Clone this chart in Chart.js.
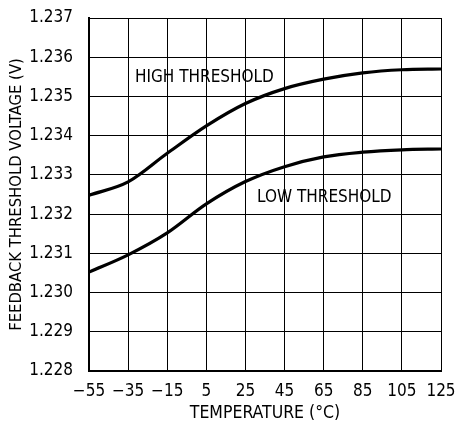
<!DOCTYPE html>
<html>
<head>
<meta charset="utf-8">
<script src="https://cdn.jsdelivr.net/npm/chart.js@4.4.1/dist/chart.umd.min.js"></script>
<style>
    html, body { margin: 0; padding: 0; background: #fff; }
    #wrap { width: 455px; height: 424px; }
</style>
</head>
<body>
<div id="wrap"><canvas id="myChart"></canvas></div>
<script>
/* ===============================
   DATA
=============================== */
const temps = [-55, -35, -15, 5, 25, 45, 65, 85, 105, 125];
const highThreshold = [1.23248, 1.23282, 1.23355, 1.23425, 1.23482, 1.2352, 1.23544, 1.2356, 1.23568, 1.2357];
const lowThreshold = [1.23052, 1.23096, 1.23152, 1.23226, 1.23283, 1.23321, 1.23346, 1.23358, 1.23364, 1.23366];
const xTicks = [-55, -35, -15, 5, 25, 45, 65, 85, 105, 125];
const yTicks = [1.228, 1.229, 1.230, 1.231, 1.232, 1.233, 1.234, 1.235, 1.236, 1.237];

const FONT = "'DejaVu Sans Condensed', 'Liberation Sans Narrow', sans-serif";

function toPoints(values) {
    return temps.map((t, i) => ({ x: t, y: values[i] }));
}

/* curve labels, anchored in data coordinates */
const curveLabels = {
    id: "curveLabels",
    afterDatasetsDraw(chart) {
        const c = chart.ctx;
        const xs = chart.scales.x;
        const ys = chart.scales.y;
        c.save();
        c.font = "17px " + FONT;
        c.fillStyle = "#000";
        c.textBaseline = "middle";
        c.textAlign = "left";
        c.fillText("HIGH THRESHOLD", xs.getPixelForValue(-31.5), ys.getPixelForValue(1.23548));
        c.fillText("LOW THRESHOLD", xs.getPixelForValue(30.9), ys.getPixelForValue(1.23243));
        c.restore();
    }
};

const ctx = document.getElementById("myChart");

new Chart(ctx, {
    type: "line",
    data: {
        datasets: [
            {
                label: "High Threshold",
                data: toPoints(highThreshold),
                borderColor: "#000",
                borderWidth: 3.2,
                pointRadius: 0,
                cubicInterpolationMode: "monotone"
            },
            {
                label: "Low Threshold",
                data: toPoints(lowThreshold),
                borderColor: "#000",
                borderWidth: 3.2,
                pointRadius: 0,
                cubicInterpolationMode: "monotone"
            }
        ]
    },
    options: {
        responsive: true,
        maintainAspectRatio: false,
        animation: false,
        layout: { padding: { top: 18, right: 14, left: 0, bottom: 0 } },
        plugins: {
            legend: { display: false },
            tooltip: { enabled: false }
        },
        scales: {
            x: {
                type: "linear",
                min: -55,
                max: 125,
                afterBuildTicks: s => { s.ticks = xTicks.map(v => ({ value: v })); },
                afterFit: s => {
                    s.height = 53;
                    s.paddingLeft = 0;
                    s.paddingRight = 0;
                },
                grid: { color: "#000", lineWidth: 1, drawTicks: false },
                border: { color: "#000", width: 2 },
                ticks: {
                    color: "#000",
                    padding: 10,
                    maxRotation: 0,
                    font: { family: FONT, size: 17 },
                    callback: v => String(v).replace("-", "\u2212")
                },
                title: {
                    display: true,
                    text: "TEMPERATURE (\u00B0C)",
                    color: "#000",
                    padding: { top: 4, bottom: 0 },
                    font: { family: FONT, size: 17.5 }
                }
            },
            y: {
                min: 1.228,
                max: 1.237,
                afterBuildTicks: s => { s.ticks = yTicks.map(v => ({ value: v })); },
                afterFit: s => {
                    s.width = 89;
                    s.paddingTop = 0;
                    s.paddingBottom = 0;
                },
                grid: { color: "#000", lineWidth: 1, drawTicks: false },
                border: { color: "#000", width: 2 },
                ticks: {
                    color: "#000",
                    padding: 16,
                    font: { family: FONT, size: 17 },
                    callback: v => v.toFixed(3)
                },
                title: {
                    display: true,
                    text: "FEEDBACK THRESHOLD VOLTAGE (V)",
                    color: "#000",
                    padding: { top: 7, bottom: 0 },
                    font: { family: FONT, size: 16.5 }
                }
            }
        }
    },
    plugins: [curveLabels]
});
</script>
</body>
</html>
